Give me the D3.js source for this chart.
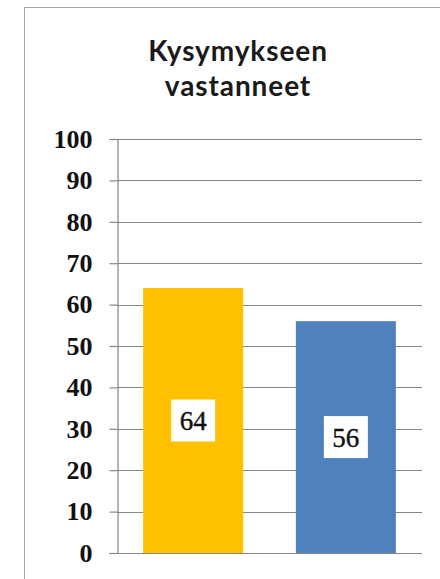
<!DOCTYPE html>
<html>
<head>
<meta charset="utf-8">
<script src="https://cdn.jsdelivr.net/npm/d3@7"></script>
<style>
  html, body { margin: 0; padding: 0; background: #fff; }
  svg { display: block; }
</style>
</head>
<body>
<svg id="chart" width="440" height="579"></svg>
<script>
const titleLines = ["Kysymykseen", "vastanneet"];
const categories = ["A", "B"];
const values = [64, 56];
const barColors = ["#FFC000", "#4F81BD"];
const yTicks = [0, 10, 20, 30, 40, 50, 60, 70, 80, 90, 100];

const svg = d3.select("#chart");

// outer chart border (clipped at right and bottom like the reference)
svg.append("rect")
  .attr("x", 24.5).attr("y", 7.5)
  .attr("width", 440).attr("height", 600)
  .attr("fill", "#fff").attr("stroke", "#a6a6a6").attr("stroke-width", 1);

// title
const title = svg.append("text")
  .attr("text-anchor", "middle")
  .attr("font-family", "Lato, 'Open Sans', sans-serif")
  .attr("font-weight", "bold")
  .attr("font-size", 28)
  .attr("letter-spacing", 0.9)
  .attr("fill", "#1a1a1a");
title.selectAll("tspan").data(titleLines).join("tspan")
  .attr("x", 238)
  .attr("y", (d, i) => 61 + i * 35)
  .text(d => d);

const plotL = 117, plotR = 422, plotT = 139, plotB = 553;

const y = d3.scaleLinear().domain([0, 100]).range([plotB, plotT]);
const x = d3.scaleBand().domain(categories).range([plotL, plotR]).paddingInner(0.345).paddingOuter(0.171);

// gridlines
svg.append("g").selectAll("line").data(yTicks).join("line")
  .attr("x1", plotL).attr("x2", plotR)
  .attr("y1", d => Math.round(y(d)) + 0.5).attr("y2", d => Math.round(y(d)) + 0.5)
  .attr("stroke", "#868686").attr("stroke-width", 1.2);

// y axis
const yAxis = d3.axisLeft(y).tickValues(yTicks).tickSize(8).tickPadding(17).tickFormat(d3.format("d"));
const gy = svg.append("g").attr("transform", `translate(${plotL + 0.5},0)`).call(yAxis);
gy.select(".domain").attr("stroke", "#868686").attr("stroke-width", 1.2);
gy.selectAll(".tick line").attr("stroke", "#868686").attr("stroke-width", 1.2);
gy.selectAll(".tick text")
  .attr("font-family", "'Liberation Serif', serif")
  .attr("font-weight", "bold")
  .attr("font-size", 26)
  .attr("fill", "#111");

// bars
svg.append("g").selectAll("rect").data(values).join("rect")
  .attr("x", (d, i) => x(categories[i]))
  .attr("width", x.bandwidth())
  .attr("y", d => y(d))
  .attr("height", d => y(0) - y(d))
  .attr("fill", (d, i) => barColors[i]);

// data labels
const lbl = svg.append("g").selectAll("g").data(values).join("g")
  .attr("transform", (d, i) => `translate(${x(categories[i]) + x.bandwidth() / 2},${y(d / 2)})`);
lbl.append("rect")
  .attr("x", -22).attr("y", -21).attr("width", 44).attr("height", 42)
  .attr("fill", "#fff");
lbl.append("text")
  .attr("text-anchor", "middle")
  .attr("dy", "0.35em")
  .attr("font-family", "'Liberation Serif', serif")
  .attr("font-size", 27)
  .attr("stroke", "#111").attr("stroke-width", 0.4)
  .attr("fill", "#111")
  .text(d => d);
</script>
</body>
</html>
